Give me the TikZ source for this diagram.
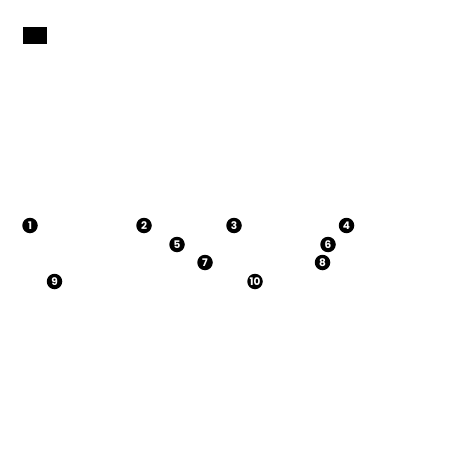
\documentclass[tikz,border=0pt]{standalone}
\usepackage{fontspec}
\setsansfont{Poppins}
\tikzset{
	badge/.style = {circle, fill = black, text = white, inner sep = 0pt,
		minimum size = 15.5pt, font = \sffamily\bfseries\fontsize{10.5}{10.5}\selectfont}
}
\begin{document}
\begin{tikzpicture}[x = 1pt, y = -1pt]
	\useasboundingbox (0, 0) rectangle (454, 454);
	%Tag
	\fill[black] (23, 27) rectangle (47, 44);
	%Badges
	\foreach \n/\x/\y in {1/30/225.5, 2/144/225.5, 3/234/225.5, 4/346.5/225.5,
			5/177/244.5, 6/328/244.5, 7/205/262.5, 8/322.5/262.5,
			9/54.5/281.5, 10/255/281.5}
		\node[badge] (b\n) at (\x, \y) {\n};
\end{tikzpicture}
\end{document}
